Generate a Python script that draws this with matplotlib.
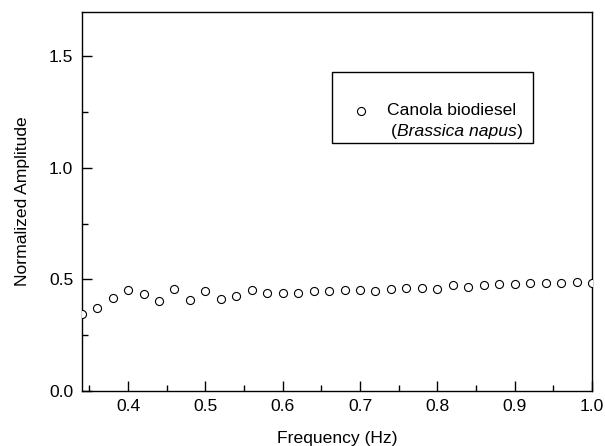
import matplotlib
matplotlib.use("Agg")
import matplotlib.pyplot as plt
from matplotlib.patches import Rectangle
from matplotlib.ticker import MultipleLocator
import numpy as np

plt.rcParams['font.family'] = ['Liberation Sans', 'DejaVu Sans']

# frequency (Hz) and normalized amplitude
freq = [0.34, 0.36, 0.38, 0.40, 0.42, 0.44, 0.46, 0.48, 0.50, 0.52, 0.54,
        0.56, 0.58, 0.60, 0.62, 0.64, 0.66, 0.68, 0.70, 0.72, 0.74, 0.76,
        0.78, 0.80, 0.82, 0.84, 0.86, 0.88, 0.90, 0.92, 0.94, 0.96, 0.98, 1.00]
amp = [0.345, 0.371, 0.416, 0.453, 0.435, 0.404, 0.458, 0.408, 0.450, 0.414,
       0.426, 0.453, 0.437, 0.438, 0.438, 0.446, 0.450, 0.453, 0.453, 0.450,
       0.459, 0.462, 0.462, 0.459, 0.476, 0.464, 0.476, 0.479, 0.480, 0.483,
       0.483, 0.483, 0.490, 0.483]

series_name = "Canola biodiesel"
series_latin = "Brassica napus"
fs = 12.6

fig = plt.figure(figsize=(6.05, 4.46), dpi=100)
ax = fig.add_axes([0.135, 0.1233, 0.8435, 0.8505])

ax.plot(freq, amp, linestyle="none", marker="o", markersize=5.8,
        markerfacecolor="white", markeredgecolor="black", markeredgewidth=0.8,
        clip_on=True, zorder=3)

ax.set_xlim(0.34, 1.0)
ax.set_ylim(0.0, 1.7)
ax.xaxis.set_major_locator(MultipleLocator(0.1))
ax.xaxis.set_minor_locator(MultipleLocator(0.05))
ax.yaxis.set_major_locator(MultipleLocator(0.5))
ax.yaxis.set_minor_locator(MultipleLocator(0.25))
ax.tick_params(which="both", direction="in", top=False, right=False,
               labelsize=fs, width=1.0)
ax.tick_params(which="major", length=7, pad=6)
ax.tick_params(which="minor", length=4)
for s in ax.spines.values():
    s.set_linewidth(1.0)

ax.set_xlabel("Frequency (Hz)", fontsize=fs, labelpad=12)
ax.set_ylabel("Normalized Amplitude", fontsize=fs, labelpad=14)

# legend box drawn by hand so the italic second line sits under the name
ax.add_patch(Rectangle((0.490, 0.653), 0.394, 0.187, transform=ax.transAxes,
                       facecolor="white", edgecolor="black", linewidth=1.0,
                       zorder=4))
ax.plot([0.547], [0.739], transform=ax.transAxes, linestyle="none",
        marker="o", markersize=5.8, markerfacecolor="white",
        markeredgecolor="black", markeredgewidth=0.8, zorder=5)
ax.text(0.599, 0.739, series_name, transform=ax.transAxes, fontsize=fs,
        va="center", ha="left", zorder=5)
ax.text(0.606, 0.683, "(", transform=ax.transAxes, fontsize=fs,
        va="center", ha="left", zorder=5)
t = ax.text(0.617, 0.683, series_latin, transform=ax.transAxes, fontsize=fs,
            style="italic", va="center", ha="left", zorder=5)
fig.canvas.draw()
bb = t.get_window_extent().transformed(ax.transAxes.inverted())
ax.text(bb.x1 + 0.002, 0.683, ")", transform=ax.transAxes, fontsize=fs,
        va="center", ha="left", zorder=5)

fig.savefig("out.png", dpi=100)
